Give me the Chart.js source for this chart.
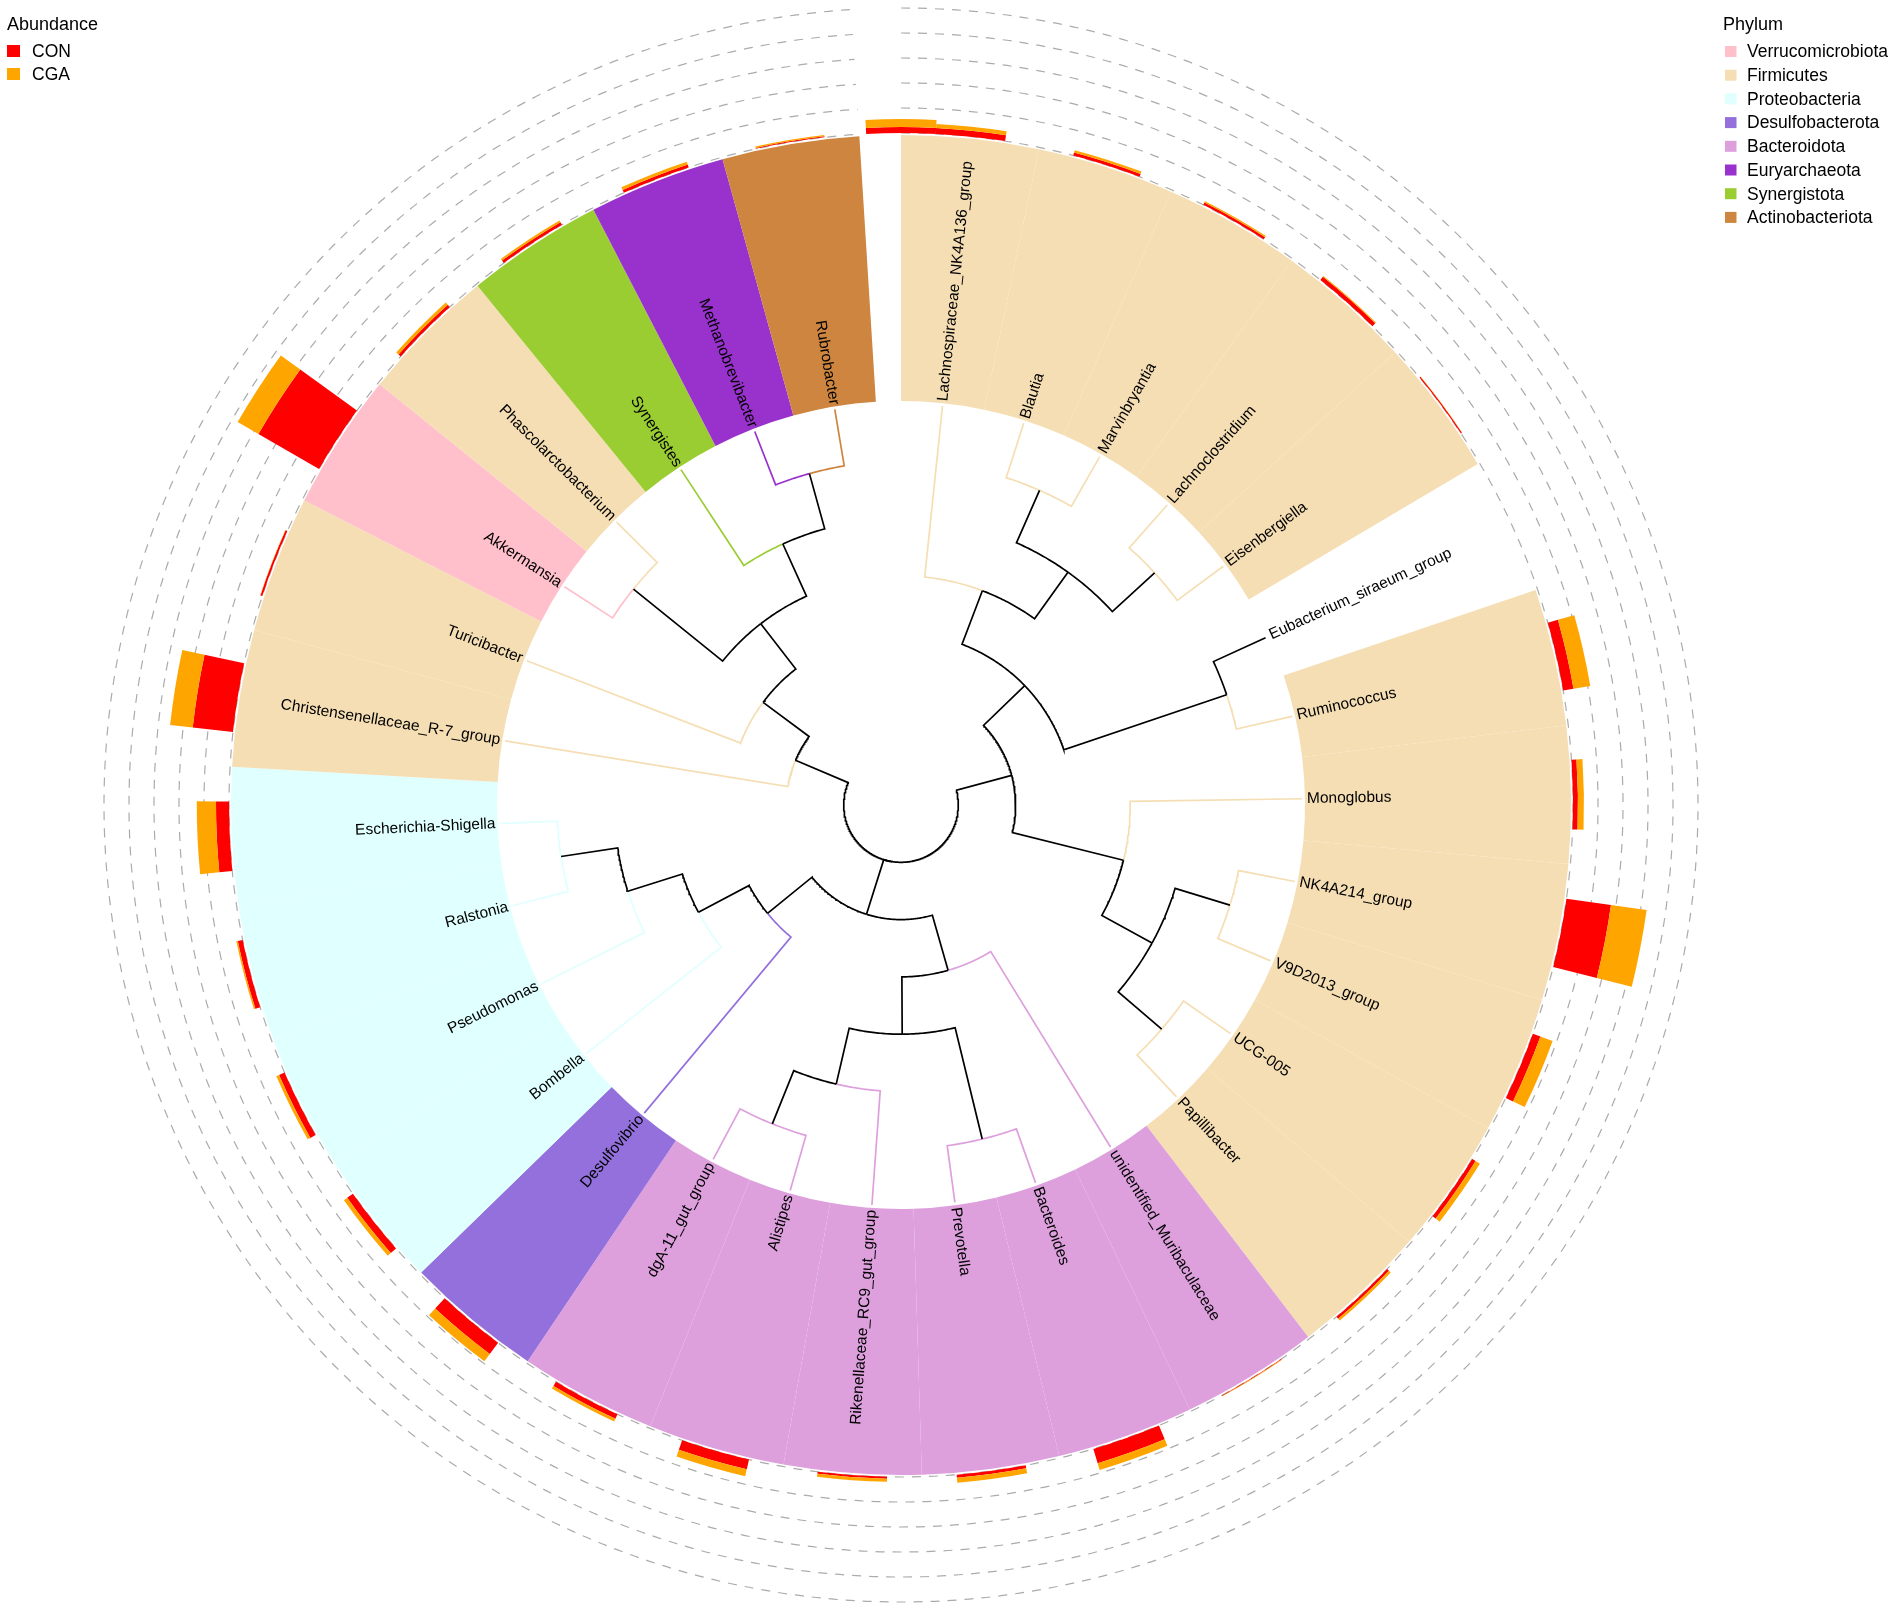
<!DOCTYPE html>
<html>
<head>
<meta charset="utf-8">
<title>Phylogenetic tree with abundance</title>
<style>
	html, body { margin:0; padding:0; background:#fff; }
	canvas { display:block; }
</style>
<script src="https://cdn.jsdelivr.net/npm/chart.js@4.4.1/dist/chart.umd.min.js"></script>
</head>
<body>
<canvas id="tree_chart" width="1902" height="1609"></canvas>
<script>

// tree topology (cladogram, no branch lengths), three clades under the root
const cladeA = '(((Lachnospiraceae_NK4A136_group,((Blautia,Marvinbryantia),(Lachnoclostridium,Eisenbergiella))),(Eubacterium_siraeum_group,Ruminococcus)),(Monoglobus,((NK4A214_group,V9D2013_group),(UCG-005,Papillibacter))))'
const cladeB = '((unidentified_Muribaculaceae,((Bacteroides,Prevotella),(Rikenellaceae_RC9_gut_group,(Alistipes,dgA-11_gut_group)))),(Desulfovibrio,(Bombella,(Pseudomonas,(Ralstonia,Escherichia-Shigella)))))'
const cladeC = '(Christensenellaceae_R-7_group,(Turicibacter,((Akkermansia,Phascolarctobacterium),(Synergistes,(Methanobrevibacter,Rubrobacter)))))'
const treeNewick = '(' + cladeA + ',' + cladeB + ',' + cladeC + ');'

// genera in tip order and their phylum (null = not highlighted)
const genera = [
	'Lachnospiraceae_NK4A136_group', 'Blautia', 'Marvinbryantia', 'Lachnoclostridium', 'Eisenbergiella',
	'Eubacterium_siraeum_group', 'Ruminococcus', 'Monoglobus', 'NK4A214_group', 'V9D2013_group',
	'UCG-005', 'Papillibacter', 'unidentified_Muribaculaceae', 'Bacteroides', 'Prevotella',
	'Rikenellaceae_RC9_gut_group', 'Alistipes', 'dgA-11_gut_group', 'Desulfovibrio', 'Bombella',
	'Pseudomonas', 'Ralstonia', 'Escherichia-Shigella', 'Christensenellaceae_R-7_group', 'Turicibacter',
	'Akkermansia', 'Phascolarctobacterium', 'Synergistes', 'Methanobrevibacter', 'Rubrobacter'
]
const generaPhylum = [
	'Firmicutes', 'Firmicutes', 'Firmicutes', 'Firmicutes', 'Firmicutes',
	null, 'Firmicutes', 'Firmicutes', 'Firmicutes', 'Firmicutes',
	'Firmicutes', 'Firmicutes', 'Bacteroidota', 'Bacteroidota', 'Bacteroidota',
	'Bacteroidota', 'Bacteroidota', 'Bacteroidota', 'Desulfobacterota', 'Proteobacteria',
	'Proteobacteria', 'Proteobacteria', 'Proteobacteria', 'Firmicutes', 'Firmicutes',
	'Verrucomicrobiota', 'Firmicutes', 'Synergistota', 'Euryarchaeota', 'Actinobacteriota'
]

// abundance per genus (grid step = 1), same order as genera
const abundCON = [
	0.24, 0.12, 0.10, 0.16, 0.05,
	null, 0.42, 0.20, 1.80, 0.32,
	0.16, 0.10, 0.02, 0.60, 0.12,
	0.08, 0.40, 0.20, 0.56, 0.28,
	0.24, 0.20, 0.52, 1.62, 0.08,
	2.80, 0.12, 0.12, 0.12, 0.04
]
const abundCGA = [
	0.16, 0.10, 0.06, 0.04, 0.01,
	null, 0.68, 0.24, 1.44, 0.52,
	0.20, 0.10, 0.02, 0.28, 0.20,
	0.12, 0.28, 0.12, 0.36, 0.16,
	0.12, 0.06, 0.77, 0.91, 0.01,
	0.96, 0.12, 0.08, 0.12, 0.06
]
// one bar sits in the opening of the circle, not on a tip
const openingCON = 0.24
const openingCGA = 0.32

const abundGroups = ['CON', 'CGA']
const abundColors = ['#FF0000', '#FFA500']
const gridSteps = [0, 1, 2, 3, 4, 5]

const phyla = ['Verrucomicrobiota', 'Firmicutes', 'Proteobacteria', 'Desulfobacterota', 'Bacteroidota', 'Euryarchaeota', 'Synergistota', 'Actinobacteriota']
const phylaColors = ['#FFC0CB', '#F5DEB3', '#E0FFFF', '#9370DB', '#DDA0DD', '#9932CC', '#9ACD32', '#CD853F']


// layout constants (px)
const LEVEL = 57.3
const OPEN_GAP = 0.3
const SECTOR_IN = 404
const SECTOR_OUT = 670
const BAR_BASE = 672
const BAR_STEP = 25
const LABEL_R = 406
const FONT = '"Liberation Sans", Arial, Helvetica, sans-serif'


function parseNewick(s){
	let i = 0
	function node(){
		if(s[i] === '('){
			i++
			const children = [node()]
			while(s[i] === ','){ i++; children.push(node()) }
			i++
			return { children }
		}
		let name = ''
		while(i < s.length && !',();'.includes(s[i])) name += s[i++]
		return { name }
	}
	return node()
}

const tree = parseNewick(treeNewick)
let tipCount = 0
function place(n){
	if(!n.children){ n.y = ++tipCount; n.h = 0; return }
	n.children.forEach(place)
	n.h = Math.max(...n.children.map(c => c.h)) + 1
	n.y = n.children.reduce((s, c) => s + c.y, 0) / n.children.length
}
place(tree)

const slots = genera.length + OPEN_GAP
const theta = yv => (yv - 0.5) * 360 / slots
const depth = n => (tree.h + 1 - n.h) * LEVEL
const rad = d => d * Math.PI / 180
const toXY = (r, t) => ({ x:r * Math.sin(rad(t)), y:r * Math.cos(rad(t)) })

function colorOf(name){
	const p = generaPhylum[genera.indexOf(name)]
	return p ? phylaColors[phyla.indexOf(p)] : '#000000'
}

// one line per edge: arc at the parent radius, then radial out to the child
const edgeSets = []
function edges(p){
	if(!p.children) return
	const rp = depth(p), tp = theta(p.y)
	for(const c of p.children){
		const tc = theta(c.y)
		const pts = []
		const n = Math.max(2, Math.ceil(Math.abs(tc - tp) / 0.5))
		for(let k = 0; k <= n; k++) pts.push(toXY(rp, tp + (tc - tp) * k / n))
		pts.push(toXY(depth(c), tc))
		edgeSets.push({
			data:pts,
			showLine:true,
			borderColor:c.children ? '#000000' : colorOf(c.name),
			borderWidth:1.7,
			pointRadius:0,
			fill:false,
			tension:0,
			borderJoinStyle:'miter'
		})
		edges(c)
	}
}
edges(tree)
edgeSets.sort((a, b) => (a.borderColor === '#000000' ? 0 : 1) - (b.borderColor === '#000000' ? 0 : 1))


function wedge(ctx, cx, cy, r0, r1, t0, t1, color){
	ctx.beginPath()
	ctx.arc(cx, cy, r1, rad(t0 - 90), rad(t1 - 90), false)
	ctx.arc(cx, cy, r0, rad(t1 - 90), rad(t0 - 90), true)
	ctx.closePath()
	ctx.fillStyle = color
	ctx.fill()
}

function stackBar(ctx, cx, cy, k, yv, con, cga){
	const t0 = theta(yv - 0.25), t1 = theta(yv + 0.25)
	const r0 = BAR_BASE * k
	const r1 = (BAR_BASE + con * BAR_STEP) * k
	const r2 = (BAR_BASE + (con + cga) * BAR_STEP) * k
	if(con > 0) wedge(ctx, cx, cy, r0, r1, t0, t1, abundColors[0])
	if(cga > 0) wedge(ctx, cx, cy, r1, r2, t0, t1, abundColors[1])
}

const ringPlugin = {
	id:'ring',
	beforeDatasetsDraw(chart){
		const { ctx, scales:{ x, y } } = chart
		const cx = x.getPixelForValue(0), cy = y.getPixelForValue(0)
		const k = x.getPixelForValue(1) - cx
		ctx.save()

		// phylum highlight sectors
		genera.forEach((g, i) => {
			const p = generaPhylum[i]
			if(!p) return
			wedge(ctx, cx, cy, SECTOR_IN * k, SECTOR_OUT * k, theta(i + 0.5), theta(i + 1.5), phylaColors[phyla.indexOf(p)])
		})

		// dashed grid of the abundance ring
		ctx.strokeStyle = '#ababab'
		ctx.lineWidth = 1.2
		ctx.setLineDash([9, 8])
		for(const s of gridSteps){
			ctx.beginPath()
			ctx.arc(cx, cy, (BAR_BASE + s * BAR_STEP) * k, rad(theta(0.5) - 90), rad(theta(genera.length + 0.5) - 90), false)
			ctx.stroke()
		}
		ctx.setLineDash([])

		// stacked abundance bars
		genera.forEach((g, i) => {
			if(abundCON[i] === null) return
			stackBar(ctx, cx, cy, k, i + 1, abundCON[i], abundCGA[i])
		})
		stackBar(ctx, cx, cy, k, 0.5, openingCON, openingCGA)

		ctx.restore()
	},
	afterDatasetsDraw(chart){
		const { ctx, scales:{ x, y } } = chart
		const cx = x.getPixelForValue(0), cy = y.getPixelForValue(0)
		const k = x.getPixelForValue(1) - cx
		ctx.save()

		// tip labels
		ctx.fillStyle = '#000'
		ctx.font = `15.5px ${FONT}`
		ctx.textBaseline = 'middle'
		genera.forEach((g, i) => {
			const t = theta(i + 1)
			const px = cx + LABEL_R * k * Math.sin(rad(t))
			const py = cy - LABEL_R * k * Math.cos(rad(t))
			ctx.save()
			ctx.translate(px, py)
			if(t < 180){
				ctx.rotate(rad(t - 90))
				ctx.textAlign = 'left'
			} else {
				ctx.rotate(rad(t + 90))
				ctx.textAlign = 'right'
			}
			ctx.fillText(g, 0, 0)
			ctx.restore()
		})

		// legends
		ctx.textAlign = 'left'
		ctx.textBaseline = 'alphabetic'
		ctx.font = `18px ${FONT}`
		ctx.fillText('Abundance', 7, 29.5)
		ctx.fillText('Phylum', 1723, 30)
		ctx.textBaseline = 'middle'
		ctx.font = `17.5px ${FONT}`
		abundGroups.forEach((g, i) => {
			const cyRow = 51 + i * 23
			ctx.fillStyle = abundColors[i]
			ctx.fillRect(7, cyRow - 6, 13, 12)
			ctx.fillStyle = '#000'
			ctx.fillText(g, 32, cyRow + 1)
		})
		phyla.forEach((p, i) => {
			const cyRow = 51.5 + i * 23.7
			ctx.fillStyle = phylaColors[i]
			ctx.fillRect(1725, cyRow - 5.5, 11.5, 11)
			ctx.fillStyle = '#000'
			ctx.fillText(p, 1747, cyRow + 1)
		})

		ctx.restore()
	}
}

const ctx = document.getElementById('tree_chart')
new Chart(ctx, {
	type:'scatter',
	data:{ datasets:edgeSets },
	options:{
		responsive:false,
		animation:false,
		devicePixelRatio:1,
		events:[],
		layout:{ padding:0 },
		elements:{ point:{ radius:0 } },
		plugins:{
			legend:{ display:false },
			tooltip:{ enabled:false }
		},
		scales:{
			x:{ type:'linear', min:-901, max:1001, display:false },
			y:{ type:'linear', min:-804, max:805, display:false }
		}
	},
	plugins:[ringPlugin]
})

</script>
</body>
</html>
